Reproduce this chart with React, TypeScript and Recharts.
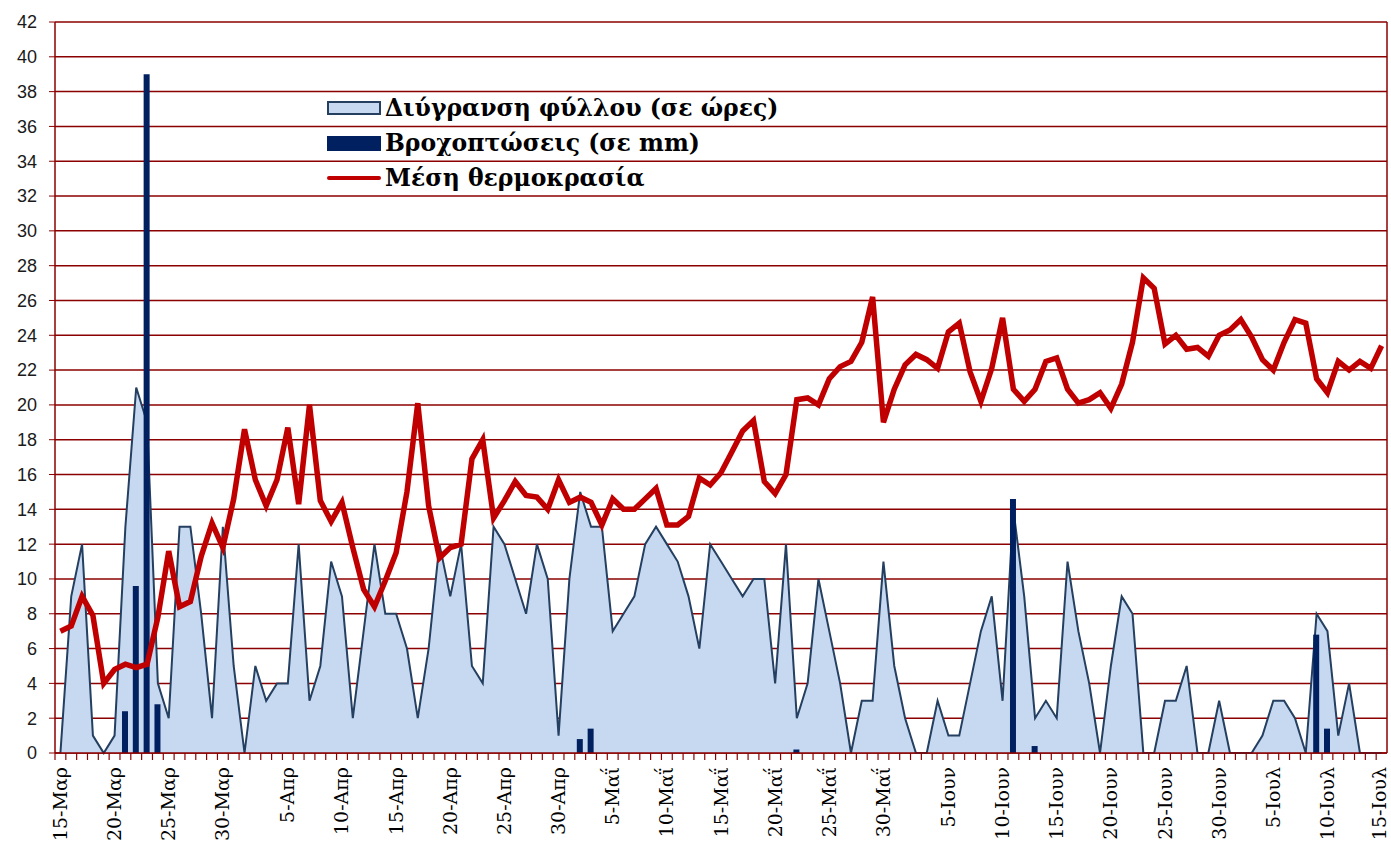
import {
  ComposedChart,
  Area,
  Bar,
  Line,
  XAxis,
  YAxis,
  CartesianGrid,
  Legend,
} from "recharts";

// months shown on the axis, daily from 15 Mar to 15 Jul
const monthSpans = [
  { name: "Μαρ", first: 15, last: 31 },
  { name: "Απρ", first: 1, last: 30 },
  { name: "Μαΐ", first: 1, last: 31 },
  { name: "Ιουν", first: 1, last: 30 },
  { name: "Ιουλ", first: 1, last: 15 },
];

const days: string[] = [];
monthSpans.forEach((m) => {
  for (let d = m.first; d <= m.last; d++) days.push(`${d}-${m.name}`);
});

// hours of leaf wetness
const leafWetness = [
  0, 9, 12, 1, 0, 1, 13, 21, 19, 4, 2, 13, 13, 8, 2, 13, 5,
  0, 5, 3, 4, 4, 12, 3, 5, 11, 9, 2, 7, 12, 8, 8, 6, 2, 6,
  12, 9, 12, 5, 4, 13, 12, 10, 8, 12, 10, 1, 10, 15, 13, 13,
  7, 8, 9, 12, 13, 12, 11, 9, 6, 12, 11, 10, 9, 10, 10, 4, 12, 2,
  4, 10, 7, 4, 0, 3, 3, 11, 5, 2, 0, 0, 3, 1, 1, 4, 7, 9,
  3, 14, 9, 2, 3, 2, 11, 7, 4, 0, 5, 9, 8, 0, 0, 3, 3, 5,
  0, 0, 3, 0, 0, 0, 1, 3, 3, 2, 0, 8, 7, 1, 4, 0, 0, 0,
];

// rainfall in mm
const rainfall = [
  0, 0, 0, 0, 0, 0, 2.4, 9.6, 39, 2.8, 0, 0, 0, 0, 0, 0, 0,
  0, 0, 0, 0, 0, 0, 0, 0, 0, 0, 0, 0, 0, 0, 0, 0, 0, 0,
  0, 0, 0, 0, 0, 0, 0, 0, 0, 0, 0, 0, 0, 0.8, 1.4, 0,
  0, 0, 0, 0, 0, 0, 0, 0, 0, 0, 0, 0, 0, 0, 0, 0, 0, 0.2,
  0, 0, 0, 0, 0, 0, 0, 0, 0, 0, 0, 0, 0, 0, 0, 0, 0, 0,
  0, 14.6, 0, 0.4, 0, 0, 0, 0, 0, 0, 0, 0, 0, 0, 0, 0, 0, 0,
  0, 0, 0, 0, 0, 0, 0, 0, 0, 0, 0, 6.8, 1.4, 0, 0, 0, 0, 0,
];

// mean temperature
const temperature = [
  7.0, 7.3, 9.0, 7.9, 4.0, 4.8, 5.1, 4.9, 5.1, 7.8, 11.6, 8.4, 8.7, 11.3, 13.2, 11.8, 14.6,
  18.6, 15.7, 14.2, 15.7, 18.7, 14.3, 20.0, 14.5, 13.3, 14.4, 11.8, 9.4, 8.4, 9.9, 11.5, 15.0, 20.1, 14.2,
  11.2, 11.8, 12.0, 16.9, 18.0, 13.5, 14.5, 15.6, 14.8, 14.7, 14.0, 15.7, 14.4, 14.7, 14.4, 13.1,
  14.6, 14.0, 14.0, 14.6, 15.2, 13.1, 13.1, 13.6, 15.8, 15.4, 16.1, 17.3, 18.5, 19.1, 15.6, 14.9, 16.0, 20.3,
  20.4, 20.0, 21.5, 22.2, 22.5, 23.6, 26.2, 19.0, 20.9, 22.3, 22.9, 22.6, 22.1, 24.2, 24.7, 21.9, 20.2, 22.1,
  25.0, 20.9, 20.2, 20.9, 22.5, 22.7, 20.9, 20.1, 20.3, 20.7, 19.8, 21.2, 23.6, 27.3, 26.7, 23.5, 24.0, 23.2,
  23.3, 22.8, 24.0, 24.3, 24.9, 23.9, 22.6, 22.0, 23.6, 24.9, 24.7, 21.5, 20.7, 22.5, 22.0, 22.5, 22.1, 23.4,
];

const yTicks = [0, 2, 4, 6, 8, 10, 12, 14, 16, 18, 20, 22, 24, 26, 28, 30, 32, 34, 36, 38, 40, 42];

const legendOrder = ["leaf", "rain", "temp"];

const data = days.map((day, i) => ({
  day,
  leaf: leafWetness[i],
  rain: rainfall[i],
  temp: temperature[i],
}));

const RED = "#8B0000";

function DayTick(props: any) {
  const { x, y, payload, index } = props;
  const off = payload.offset ?? 5.4;
  const dayNum = parseInt(String(payload.value), 10);
  // keep the last label inside the picture
  const shift = index === days.length - 1 ? 4.5 : 6.5;
  return (
    <g>
      <line x1={x - off} y1={y} x2={x - off} y2={y + 7} stroke={RED} strokeWidth={1.2} />
      {dayNum % 5 === 0 && (
        <text
          x={0}
          y={0}
          transform={`translate(${x + shift},${y + 14}) rotate(-90)`}
          textAnchor="end"
          fontFamily="DejaVu Serif"
          fontSize={19}
          fill="#000"
        >
          {payload.value}
        </text>
      )}
    </g>
  );
}

function LegendBox(props: any) {
  const items = [...(props.payload || [])].sort(
    (a: any, b: any) => legendOrder.indexOf(a.dataKey) - legendOrder.indexOf(b.dataKey)
  );
  return (
    <div style={{ fontFamily: "DejaVu Serif", fontWeight: "bold", fontSize: 23.5, color: "#000" }}>
      {items.map((it: any) => (
        <div key={it.dataKey} style={{ display: "flex", alignItems: "center", height: 35 }}>
          <svg width={56} height={20} style={{ marginRight: 2 }}>
            {it.dataKey === "leaf" && (
              <rect x={1} y={4} width={52} height={12} fill="#C6D9F1" stroke="#243F60" strokeWidth={2} />
            )}
            {it.dataKey === "rain" && <rect x={0} y={3} width={54} height={15} fill="#002060" />}
            {it.dataKey === "temp" && (
              <line x1={2} y1={10} x2={52} y2={10} stroke="#C00000" strokeWidth={4} strokeLinecap="round" />
            )}
          </svg>
          <span>{it.value}</span>
        </div>
      ))}
    </div>
  );
}

export default function App() {
  return (
    <div style={{ position: "absolute", left: 0, top: 0, width: 1391, height: 845, background: "#fff" }}>
      <ComposedChart
        width={1391}
        height={845}
        data={data}
        margin={{ top: 22, right: 0, bottom: 0, left: 0 }}
      >
        <CartesianGrid vertical={false} stroke={RED} strokeWidth={1.5} />
        <XAxis
          dataKey="day"
          interval={0}
          height={92}
          tickLine={false}
          tickSize={0}
          tickMargin={0}
          tick={(p: any) => <DayTick {...p} />}
          axisLine={{ stroke: RED, strokeWidth: 1.5 }}
        />
        <YAxis
          domain={[0, 42]}
          ticks={yTicks}
          interval={0}
          width={55}
          tickSize={6}
          tickMargin={12}
          tick={{ fill: "#1a1a1a", fontSize: 18, fontFamily: "Liberation Sans" }}
          tickLine={{ stroke: RED }}
          axisLine={{ stroke: RED, strokeWidth: 1.5 }}
        />
        <YAxis
          yAxisId="r"
          orientation="right"
          width={4}
          domain={[0, 42]}
          tick={false}
          tickLine={false}
          axisLine={{ stroke: RED, strokeWidth: 1.5 }}
        />
        <Legend
          layout="vertical"
          align="center"
          verticalAlign="middle"
          wrapperStyle={{ left: 327, top: 90 }}
          content={(p: any) => <LegendBox {...p} />}
        />
        <Area
          dataKey="leaf"
          name="Διύγρανση φύλλου (σε ώρες)"
          type="linear"
          fill="#C6D9F1"
          fillOpacity={1}
          stroke="#243F60"
          strokeWidth={2}
          isAnimationActive={false}
        />
        <Bar
          dataKey="rain"
          name="Βροχοπτώσεις (σε mm)"
          fill="#002060"
          barSize={6}
          isAnimationActive={false}
        />
        <Line
          dataKey="temp"
          name="Μέση θερμοκρασία"
          type="linear"
          stroke="#C00000"
          strokeWidth={5.5}
          dot={false}
          isAnimationActive={false}
        />
      </ComposedChart>
    </div>
  );
}
